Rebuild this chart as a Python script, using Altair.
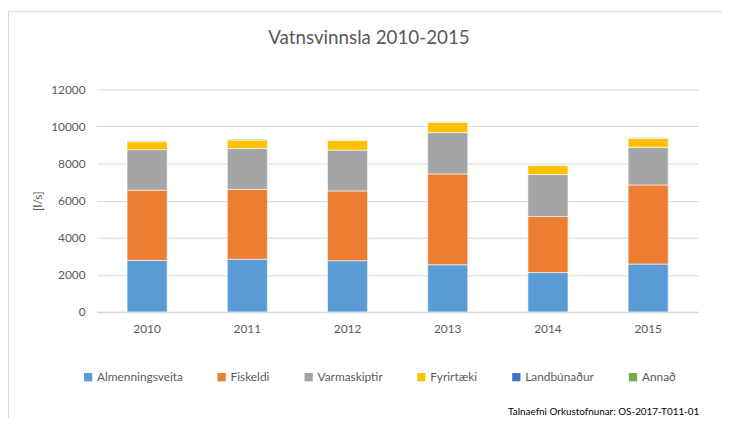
import altair as alt
import pandas as pd

years = ["2010", "2011", "2012", "2013", "2014", "2015"]
series = ["Almenningsveita", "Fiskeldi", "Varmaskiptir", "Fyrirtæki", "Landbúnaður", "Annað"]
colors = ["#5B9BD5", "#ED7D31", "#A5A5A5", "#FFC000", "#4472C4", "#70AD47"]

almenningsveita = [2780, 2840, 2760, 2540, 2120, 2580]
fiskeldi = [3780, 3770, 3765, 4900, 3020, 4265]
varmaskiptir = [2190, 2200, 2200, 2230, 2270, 2030]
fyrirtaeki = [430, 460, 530, 550, 480, 480]
landbunadur = [20, 20, 15, 20, 20, 20]
annad = [30, 30, 15, 15, 30, 30]

y_ticks = [0, 2000, 4000, 6000, 8000, 10000, 12000]
title_text = "Vatnsvinnsla 2010-2015"
y_title = "[l/s]"
footnote = "Talnaefni Orkustofnunar: OS-2017-T011-01"

values = [almenningsveita, fiskeldi, varmaskiptir, fyrirtaeki, landbunadur, annad]
rows = []
for si, (name, vals) in enumerate(zip(series, values)):
    for y, v in zip(years, vals):
        rows.append({"year": y, "series": name, "value": v, "order": si})
df = pd.DataFrame(rows)

FONT = "Lato"
GREY = "#595959"
W, H = 608, 225
PL = 90

bars = alt.Chart(df).mark_bar(stroke="white", strokeWidth=0.6).encode(
    x=alt.X("year:N", sort=years, title=None,
            scale=alt.Scale(paddingInner=0.6, paddingOuter=0.3),
            axis=alt.Axis(labelAngle=0, labelFontSize=12, labelColor=GREY, labelFont=FONT,
                          domainColor="#D9D9D9", domainWidth=1.5, ticks=False, labelPadding=12,
                          grid=False)),
    y=alt.Y("value:Q", stack="zero", title=y_title,
            scale=alt.Scale(domain=[0, 12000], nice=False),
            axis=alt.Axis(values=y_ticks, format="d", labelFontSize=12, labelColor=GREY,
                          labelFont=FONT, domain=False, ticks=False, labelPadding=12,
                          gridColor="#D9D9D9", titleFontSize=12, titleColor=GREY,
                          titleFont=FONT, titleFontWeight="normal", titlePadding=6)),
    color=alt.Color("series:N", sort=series,
                    scale=alt.Scale(domain=series, range=colors),
                    legend=alt.Legend(title=None, orient="none", legendX=-15, legendY=285,
                                      direction="horizontal", symbolType="square", symbolSize=70,
                                      symbolStrokeWidth=0, labelFontSize=12, labelColor=GREY,
                                      labelFont=FONT, columnPadding=33, labelOffset=3)),
    order=alt.Order("order:Q", sort="ascending"),
)

one = pd.DataFrame({"a": [0]})
top_border = alt.Chart(one).mark_rule(color="#D9D9D9", strokeWidth=1).encode(
    x=alt.value(-PL), x2=alt.value(W + 40), y=alt.value(-78.5)
)
left_border = alt.Chart(one).mark_rule(color="#D9D9D9", strokeWidth=1).encode(
    x=alt.value(-PL + 0.5), y=alt.value(-78.5), y2=alt.value(H + 130)
)
title = alt.Chart(one).mark_text(align="center", baseline="middle", fontSize=19,
                                 font=FONT, color=GREY).encode(
    x=alt.value(275), y=alt.value(-52), text=alt.value(title_text)
)
foot = alt.Chart(one).mark_text(align="right", baseline="alphabetic", fontSize=10,
                                font=FONT, color="black").encode(
    x=alt.value(609), y=alt.value(329), text=alt.value(footnote)
)

chart = alt.layer(bars, top_border, left_border, title, foot).properties(
    width=W, height=H,
    autosize=alt.AutoSizeParams(type="none"),
    padding={"left": PL, "top": 80, "right": 24, "bottom": 105},
).configure_view(stroke=None)

chart.save("out.html", embed_options={"renderer": "svg", "actions": False})
